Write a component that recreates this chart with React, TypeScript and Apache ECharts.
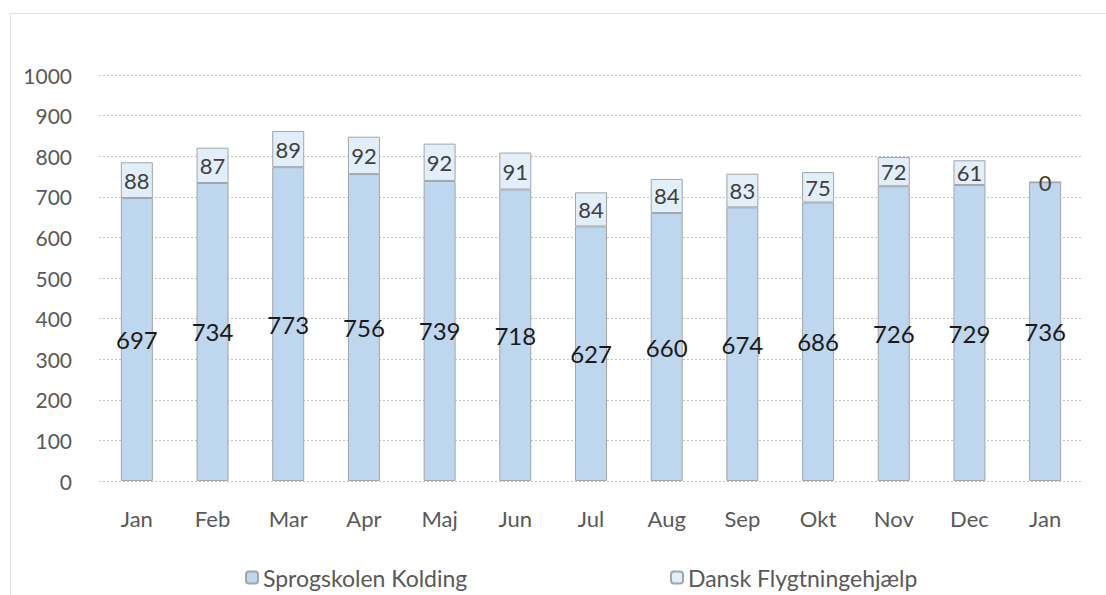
import React, { useEffect, useRef } from "react";
import * as echarts from "echarts";

const months = ["Jan", "Feb", "Mar", "Apr", "Maj", "Jun", "Jul", "Aug", "Sep", "Okt", "Nov", "Dec", "Jan"];
const sprogskolen = [697, 734, 773, 756, 739, 718, 627, 660, 674, 686, 726, 729, 736];
const danskFlygt = [88, 87, 89, 92, 92, 91, 84, 84, 83, 75, 72, 61, 0];
const yTicks = { min: 0, max: 1000, interval: 100 };
const seriesNames = ["Sprogskolen Kolding", "Dansk Flygtningehjælp"];

const FONT = "Lato, 'Open Sans', sans-serif";

export default function App() {
  const ref = useRef<HTMLDivElement>(null);
  useEffect(() => {
    if (!ref.current) return;
    const chart = echarts.init(ref.current, null, { renderer: "svg" });
    chart.setOption({
      animation: false,
      backgroundColor: "#ffffff",
      textStyle: { fontFamily: FONT },
      graphic: [
        {
          type: "line",
          shape: { x1: 10.5, y1: 13.5, x2: 1106, y2: 13.5 },
          style: { stroke: "#c8c8c8", lineWidth: 1, lineDash: [1, 1] },
          silent: true,
        },
        {
          type: "line",
          shape: { x1: 10.5, y1: 13.5, x2: 10.5, y2: 595 },
          style: { stroke: "#c8c8c8", lineWidth: 1, lineDash: [1, 1] },
          silent: true,
        },
      ],
      grid: { left: 99, right: 23, top: 75, bottom: 114 },
      legend: [
        {
          data: [seriesNames[0]],
          left: 240,
          top: 561,
          itemWidth: 12,
          itemHeight: 12,
          itemGap: 6,
          textStyle: { fontSize: 23, color: "#595959", fontFamily: FONT },
        },
        {
          data: [seriesNames[1]],
          left: 665,
          top: 561,
          itemWidth: 12,
          itemHeight: 12,
          itemGap: 6,
          textStyle: { fontSize: 23, color: "#595959", fontFamily: FONT },
        },
      ],
      xAxis: {
        type: "category",
        data: months,
        axisLine: { show: false },
        axisTick: { show: false },
        axisLabel: { color: "#595959", fontSize: 22, margin: 26, fontFamily: FONT },
      },
      yAxis: {
        type: "value",
        min: yTicks.min,
        max: yTicks.max,
        interval: yTicks.interval,
        axisLine: { show: false },
        axisTick: { show: false },
        axisLabel: {
          color: "#595959",
          fontSize: 21,
          margin: 27,
          fontFamily: FONT,
          formatter: (v: number) => String(v),
        },
        splitLine: { lineStyle: { color: "#c4c4c4", type: [2, 2], width: 1 } },
      },
      series: [
        {
          name: seriesNames[0],
          type: "bar",
          stack: "total",
          data: sprogskolen,
          barWidth: 32,
          itemStyle: { color: "#bed6ee", borderColor: "#a0a6ac", borderWidth: 1 },
          label: {
            show: true,
            position: "inside",
            color: "#1a1a1a",
            fontSize: 24,
            fontFamily: FONT,
          },
        },
        {
          name: seriesNames[1],
          type: "bar",
          stack: "total",
          data: danskFlygt,
          barWidth: 32,
          itemStyle: { color: "#e2eef9", borderColor: "#a0a6ac", borderWidth: 1 },
          label: {
            show: true,
            position: "inside",
            color: "#404040",
            fontSize: 22,
            fontFamily: FONT,
          },
        },
      ],
    });
    return () => chart.dispose();
  }, []);
  return (
    <div
      ref={ref}
      style={{ position: "fixed", left: 0, top: 0, width: 1106, height: 595 }}
    />
  );
}
